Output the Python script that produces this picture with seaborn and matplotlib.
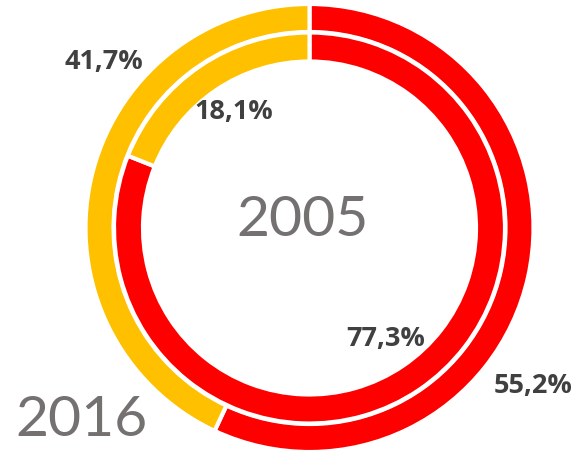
import matplotlib
matplotlib.use("Agg")
import matplotlib.pyplot as plt
import seaborn as sns

# ---- data ----
categories = ["Categoria 1", "Categoria 2"]
year_outer = "2016"
year_inner = "2005"
values_2016 = [55.2, 41.7]
values_2005 = [77.3, 18.1]
colors = ["#FF0000", "#FFC000"]

sns.set_theme(style="white")
plt.rcParams["font.family"] = ["Open Sans", "DejaVu Sans"]

W, H = 578, 451
fig = plt.figure(figsize=(W / 100, H / 100), dpi=100)
ax = fig.add_axes([0, 0, 1, 1])

# geometry (pixels -> data units, 1 unit = 222 px)
cx, cy, unit = 309.5, 228.0, 222.0
lw = 3.0

ax.pie(values_2016, colors=colors, startangle=90, counterclock=False,
       radius=224 / unit,
       wedgeprops=dict(width=28 / unit, edgecolor="white", linewidth=lw))
ax.pie(values_2005, colors=colors, startangle=90, counterclock=False,
       radius=195.5 / unit,
       wedgeprops=dict(width=29 / unit, edgecolor="white", linewidth=lw))

ax.set_xlim((0 - cx) / unit, (W - cx) / unit)
ax.set_ylim((cy - H) / unit, cy / unit)
ax.set_aspect("auto")
ax.axis("off")

def fmt(v):
    return f"{v:.1f}".replace(".", ",") + "%"

def px(x, y):
    return ((x - cx) / unit, (cy - y) / unit)

label_color = "#404040"
lab_kw = dict(ha="center", va="center", fontsize=19.5, fontweight="bold",
              color=label_color)
# outer ring (2016) labels
ax.text(*px(533, 386), fmt(values_2016[0]), **lab_kw)
ax.text(*px(103.5, 62), fmt(values_2016[1]), **lab_kw)
# inner ring (2005) labels
ax.text(*px(385.5, 339), fmt(values_2005[0]), **lab_kw)
ax.text(*px(234, 112), fmt(values_2005[1]), **lab_kw)

year_color = "#767171"
year_kw = dict(ha="center", va="center", fontsize=41, color=year_color,
               family=["Lato", "DejaVu Sans"])
ax.text(*px(303, 220), year_inner, **year_kw)
ax.text(*px(81, 421), year_outer, **year_kw)

fig.savefig("out.png", dpi=100)
